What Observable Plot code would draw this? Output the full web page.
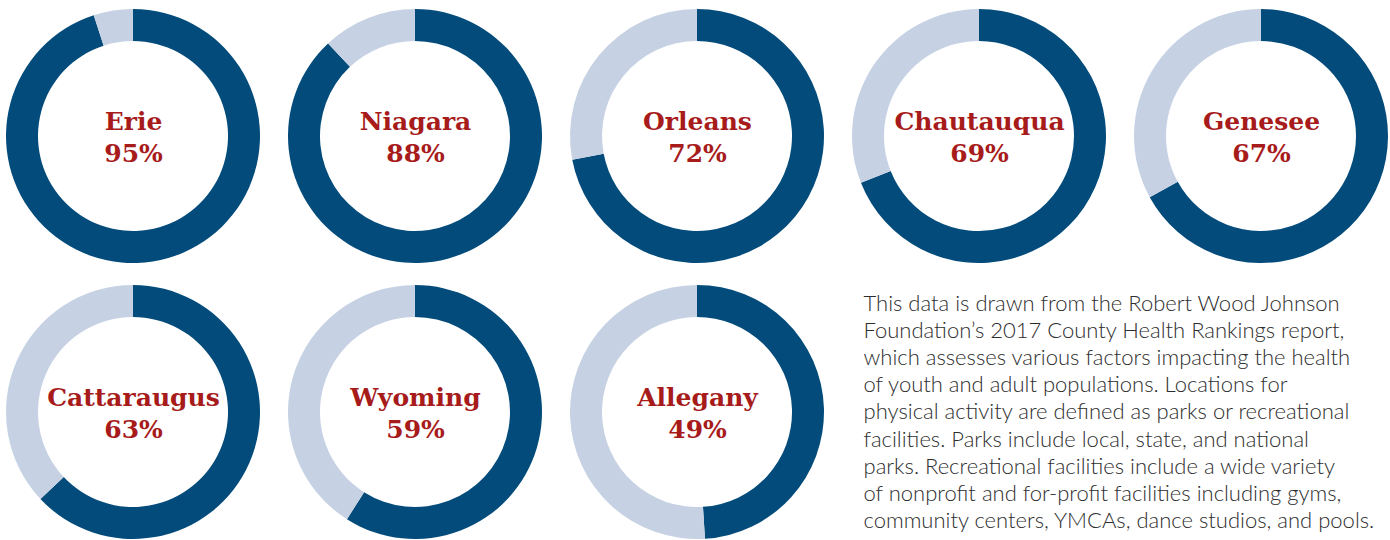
<!DOCTYPE html>
<html><head><meta charset="utf-8">
<script src="https://cdn.jsdelivr.net/npm/d3@7"></script>
<script src="https://cdn.jsdelivr.net/npm/@observablehq/plot@0.6"></script>
<style>body{margin:0;background:#fff;} #chart svg{display:block;}</style>
</head><body><div id="chart"></div>
<script>
const counties = ["Erie","Niagara","Orleans","Chautauqua","Genesee","Cattaraugus","Wyoming","Allegany"];
const shares = [95,88,72,69,67,63,59,49];
const noteLines = [
  "This data is drawn from the Robert Wood Johnson",
  "Foundation\u2019s 2017 County Health Rankings report,",
  "which assesses various factors impacting the health",
  "of youth and adult populations. Locations for",
  "physical activity are defined as parks or recreational",
  "facilities. Parks include local, state, and national",
  "parks. Recreational facilities include a wide variety",
  "of nonprofit and for-profit facilities including gyms,",
  "community centers, YMCAs, dance studios, and pools."
];

const perRow = 5;
const data = counties.map((c, i) => ({
  county: c, pct: shares[i], col: i % perRow, row: Math.floor(i / perRow)
}));

const DARK = "#034b7b", LIGHT = "#c6d2e3", RED = "#a71b1b";

function donuts(index, scales) {
  const g = d3.create("svg:g");
  const arc = d3.arc().innerRadius(95).outerRadius(127);
  for (const d of data) {
    const cx = scales.x(d.col), cy = scales.y(d.row);
    const a = 2 * Math.PI * d.pct / 100;
    const gg = g.append("g").attr("transform", `translate(${cx},${cy})`);
    gg.append("path").attr("d", arc({startAngle: 0, endAngle: a})).attr("fill", DARK);
    gg.append("path").attr("d", arc({startAngle: a, endAngle: 2 * Math.PI})).attr("fill", LIGHT);
  }
  return g.node();
}

const labelFont = "'DejaVu Serif', serif";
const chart = Plot.plot({
  width: 1390,
  height: 540,
  margin: 0,
  x: {type: "point", domain: [0,1,2,3,4], range: [133, 1261], padding: 0, axis: null},
  y: {type: "point", domain: [0,1], range: [136, 412], padding: 0, axis: null},
  marks: [
    donuts,
    Plot.text(data, {x: "col", y: "row", text: "county", dy: -15, fill: RED,
      fontSize: 25, fontWeight: "bold", fontFamily: labelFont}),
    Plot.text(data, {x: "col", y: "row", text: d => d.pct + "%", dy: 17, fill: RED,
      fontSize: 25, fontWeight: "bold", fontFamily: labelFont}),
    Plot.text([noteLines.join("\n")], {frameAnchor: "top-left", dx: 863, dy: 291,
      textAnchor: "start", lineAnchor: "top", lineHeight: 1.235, fontSize: 22,
      fontWeight: 300, fill: "#2e2e2e", fontFamily: "Lato, sans-serif"})
  ]
});
chart.style.fontFamily = "Lato, sans-serif";
document.getElementById("chart").append(chart);
</script>
</body></html>
